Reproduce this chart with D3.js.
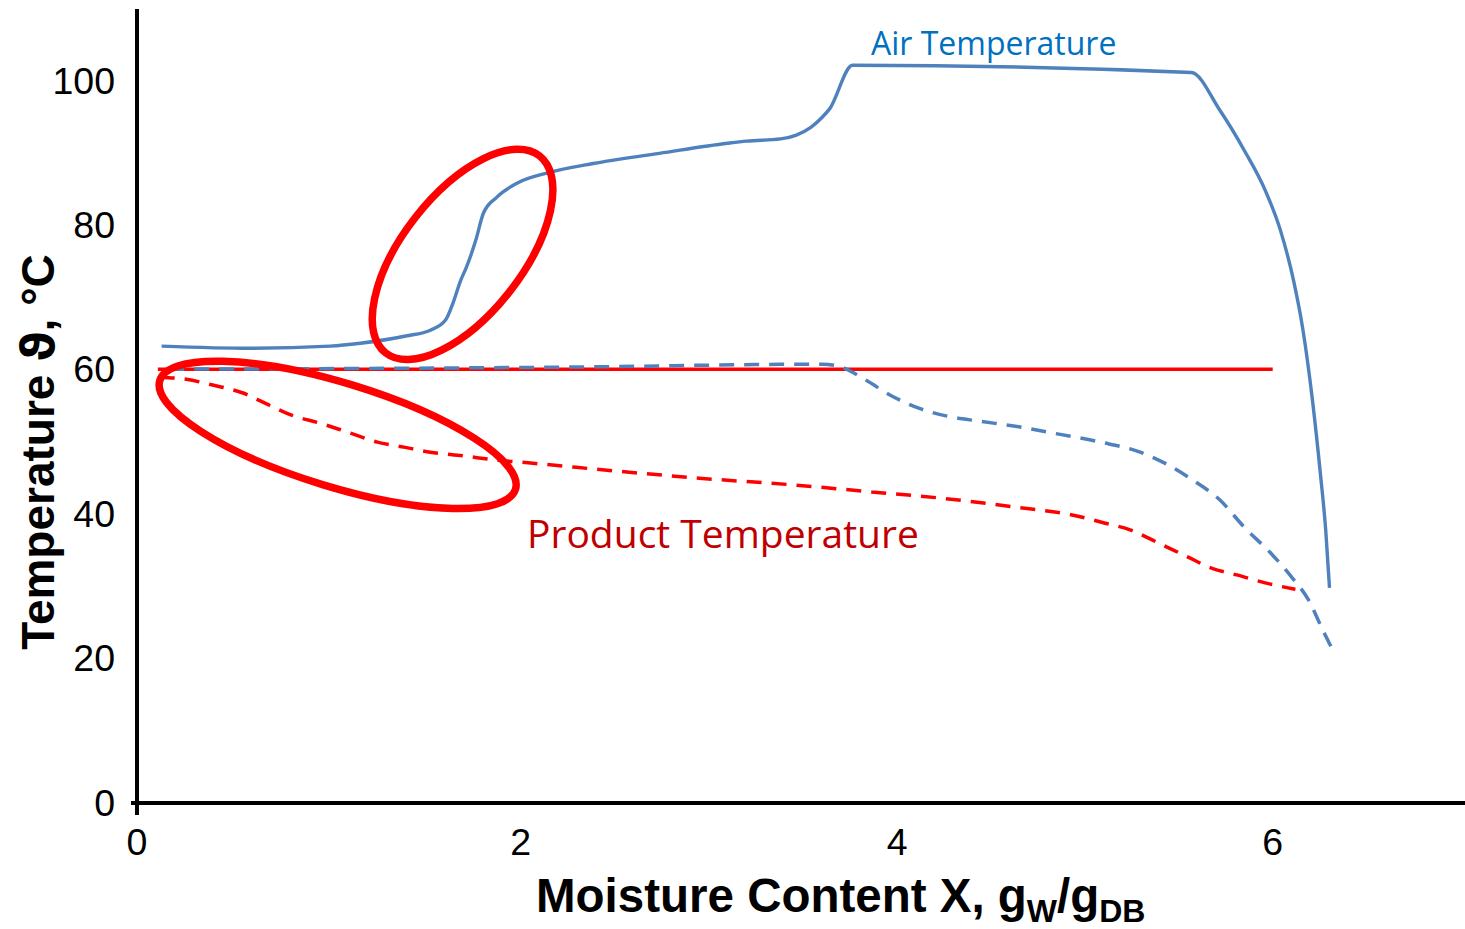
<!DOCTYPE html>
<html>
<head>
<meta charset="utf-8">
<script src="https://cdn.jsdelivr.net/npm/d3@7"></script>
<style>
  html, body { margin: 0; padding: 0; background: #fff; }
  svg { display: block; }
</style>
</head>
<body>
<svg id="chart" width="1465" height="929"></svg>
<script>
// ---- data (moisture content X, temperature °C) ----
const xTicks = [0, 2, 4, 6];
const yTicks = [0, 20, 40, 60, 80, 100];

const airTemp = [
  [0.13, 63.3], [0.60, 63.0], [1.02, 63.3], [1.18, 63.7], [1.42, 64.7],
  [1.55, 65.5], [1.63, 66.9], [1.67, 69.3], [1.71, 72.4], [1.74, 74.2],
  [1.79, 78.0], [1.83, 81.7], [1.90, 83.9], [2.01, 85.9], [2.17, 87.3],
  [2.41, 88.6], [2.76, 90.0], [3.12, 91.4], [3.22, 91.7], [3.40, 92.0],
  [3.48, 92.5], [3.56, 93.6], [3.62, 95.0], [3.66, 96.2], [3.78, 102.2], [5.57, 101.2],
  [5.72, 96.0], [5.85, 90.4], [5.96, 84.9], [6.04, 79.4], [6.11, 72.4],
  [6.16, 65.5], [6.21, 55.8], [6.25, 46.1], [6.28, 37.8], [6.30, 29.8]
];

const airDashed = [
  [0.17, 60.1], [2.32, 60.4], [3.62, 60.8], [3.71, 60.5], [3.85, 58.6],
  [3.98, 56.5], [4.13, 54.7], [4.28, 53.6], [4.45, 52.9], [4.64, 52.2],
  [4.87, 51.1], [5.09, 50.0], [5.30, 48.6], [5.45, 46.8], [5.58, 44.7],
  [5.72, 42.0], [5.85, 38.2], [5.99, 34.6], [6.10, 31.3], [6.19, 28.1],
  [6.26, 24.2], [6.33, 20.5]
];

const productTemp = [
  [0.12, 59.0], [0.26, 58.7], [0.40, 57.9], [0.56, 56.8], [0.70, 55.1],
  [0.82, 53.7], [0.97, 52.6], [1.11, 51.4], [1.27, 50.0], [1.41, 49.3],
  [1.55, 48.6], [1.72, 48.1], [1.90, 47.5], [2.08, 47.1], [2.32, 46.5],
  [2.97, 45.0], [3.50, 44.0], [3.88, 43.1], [4.26, 42.2], [4.64, 41.0],
  [4.94, 39.9], [5.11, 38.8], [5.25, 37.8], [5.39, 36.1], [5.55, 34.1],
  [5.68, 32.5], [5.81, 31.6], [5.96, 30.5], [6.12, 29.6]
];

const wetBulb = [[0.11, 60.1], [6.00, 60.1]];

// annotation ellipses: centre in data units
const highlights = [
  { cx: 1.72, cy: 76.0 },
  { cx: 1.06, cy: 51.0 }
];

// ---- drawing ----
const svg = d3.select("#chart");
const x = d3.scaleLinear().domain([0, 7]).range([137, 1462]);
const y = d3.scaleLinear().domain([0, 110]).range([803, 9]);

const line = d3.line().x(d => x(d[0])).y(d => y(d[1])).curve(d3.curveMonotoneX);
const straight = d3.line().x(d => x(d[0])).y(d => y(d[1]));

// axes (no ticks, labels drawn separately)
const xAxis = d3.axisBottom(x).tickValues([]).tickSize(0).tickSizeOuter(0);
const yAxis = d3.axisLeft(y).tickValues([]).tickSize(0).tickSizeOuter(0);

// series
svg.append("path").datum(wetBulb).attr("d", straight)
  .attr("fill", "none").attr("stroke", "#FF0000").attr("stroke-width", 3.5);

svg.append("path").datum(airDashed).attr("d", line)
  .attr("fill", "none").attr("stroke", "#4F81BD").attr("stroke-width", 3.5)
  .attr("stroke-dasharray", "15,10");

svg.append("path").datum(productTemp).attr("d", line)
  .attr("fill", "none").attr("stroke", "#FF0000").attr("stroke-width", 3.5)
  .attr("stroke-dasharray", "15,10");

svg.append("path").datum(airTemp).attr("d", line)
  .attr("fill", "none").attr("stroke", "#4F81BD").attr("stroke-width", 3.4);

// highlight ellipses
const ellGeom = [
  { rx: 125, ry: 60, rot: -52 },
  { rx: 186, ry: 52, rot: 17 }
];
svg.selectAll("ellipse.hl").data(highlights).enter().append("ellipse")
  .attr("class", "hl")
  .attr("transform", (d, i) => `translate(${x(d.cx)},${y(d.cy)}) rotate(${ellGeom[i].rot})`)
  .attr("rx", (d, i) => ellGeom[i].rx).attr("ry", (d, i) => ellGeom[i].ry)
  .attr("fill", "none").attr("stroke", "#FF0000").attr("stroke-width", 7.5);

// axis lines
const gx = svg.append("g").attr("transform", `translate(0,${y(0)})`).call(xAxis);
const gy = svg.append("g").attr("transform", `translate(${x(0)},0)`).call(yAxis);
gx.select(".domain").attr("stroke", "#000").attr("stroke-width", 4)
  .attr("d", `M${x(0) - 6},0H1465`);
gy.select(".domain").attr("stroke", "#000").attr("stroke-width", 4)
  .attr("d", `M0,${y(0) + 12}V${y(110)}`);

// tick labels
svg.append("g").selectAll("text").data(yTicks).enter().append("text")
  .attr("x", 115).attr("y", d => y(d) - 1).attr("dy", "0.36em")
  .attr("text-anchor", "end")
  .attr("font-family", "Liberation Sans, Arial, sans-serif").attr("font-size", 37.5)
  .attr("fill", "#000").text(d => d);

svg.append("g").selectAll("text").data(xTicks).enter().append("text")
  .attr("x", d => x(d) + (d === 2 ? 5 : d === 4 ? 3 : 0)).attr("y", 855)
  .attr("text-anchor", "middle")
  .attr("font-family", "Liberation Sans, Arial, sans-serif").attr("font-size", 37.5)
  .attr("fill", "#000").text(d => d);

// axis titles
const yTitle = svg.append("text")
  .attr("transform", "translate(54,452) rotate(-90)")
  .attr("text-anchor", "middle")
  .attr("font-family", "Liberation Sans, Arial, sans-serif")
  .attr("font-weight", "bold").attr("font-size", 46).attr("fill", "#000");
yTitle.append("tspan").text("Temperature ");
yTitle.append("tspan").attr("font-family", "DejaVu Sans, sans-serif").text("ϑ");
yTitle.append("tspan").text(", °C");

const xTitle = svg.append("text")
  .attr("x", 536).attr("y", 912)
  .attr("font-family", "Liberation Sans, Arial, sans-serif")
  .attr("font-weight", "bold").attr("font-size", 47.5).attr("fill", "#000");
xTitle.append("tspan").text("Moisture Content X, g");
xTitle.append("tspan").attr("font-size", 32).attr("dy", 10).text("W");
xTitle.append("tspan").attr("dy", -10).text("/g");
xTitle.append("tspan").attr("font-size", 32).attr("dy", 10).text("DB");

// series labels
svg.append("text").attr("x", 871).attr("y", 55)
  .attr("font-family", "Open Sans, Noto Sans, sans-serif").attr("font-size", 32)
  .attr("fill", "#0070C0").text("Air Temperature");

svg.append("text").attr("x", 527).attr("y", 548)
  .attr("font-family", "Open Sans, Noto Sans, sans-serif").attr("font-size", 39)
  .attr("fill", "#C00000").text("Product Temperature");
</script>
</body>
</html>
